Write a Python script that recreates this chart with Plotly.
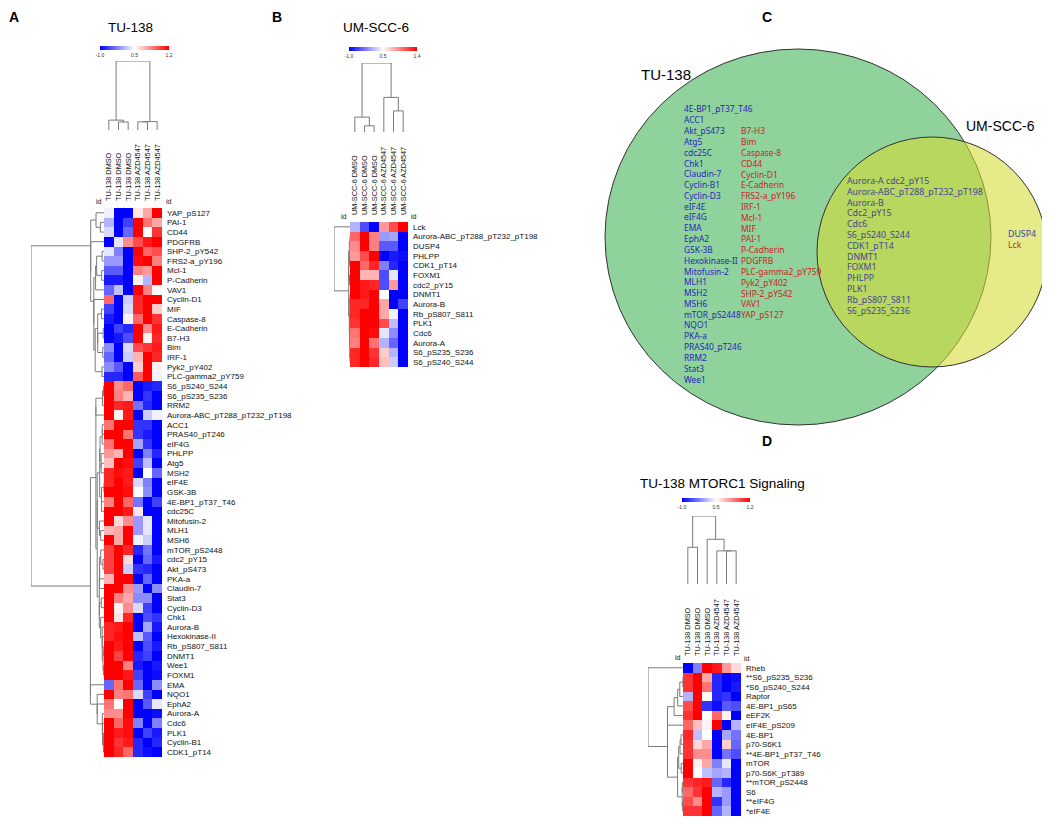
import numpy as np
import plotly.graph_objects as go

# The page body has an 8px margin, so the figure is offset by 8px.
OFF = 8
W, H = 1050 - OFF, 819 - OFF


def px(x):
    return (x - OFF) / W


def py(y):
    return 1 - (y - OFF) / H


# ---------------- DATA ----------------
a_cols = ["TU-138 DMSO", "TU-138 DMSO", "TU-138 DMSO",
          "TU-138 AZD4547", "TU-138 AZD4547", "TU-138 AZD4547"]
a_rows = ["YAP_pS127", "PAI-1", "CD44", "PDGFRB", "SHP-2_pY542", "FRS2-a_pY196", "Mcl-1",
          "P-Cadherin", "VAV1", "Cyclin-D1", "MIF", "Caspase-8", "E-Cadherin", "B7-H3", "Bim",
          "IRF-1", "Pyk2_pY402", "PLC-gamma2_pY759", "S6_pS240_S244", "S6_pS235_S236", "RRM2",
          "Aurora-ABC_pT288_pT232_pT198", "ACC1", "PRAS40_pT246", "eIF4G", "PHLPP", "Atg5",
          "MSH2", "eIF4E", "GSK-3B", "4E-BP1_pT37_T46", "cdc25C", "Mitofusin-2", "MLH1", "MSH6",
          "mTOR_pS2448", "cdc2_pY15", "Akt_pS473", "PKA-a", "Claudin-7", "Stat3", "Cyclin-D3",
          "Chk1", "Aurora-B", "Hexokinase-II", "Rb_pS807_S811", "DNMT1", "Wee1", "FOXM1", "EMA",
          "NQO1", "EphA2", "Aurora-A", "Cdc6", "PLK1", "Cyclin-B1", "CDK1_pT14"]
a_vals = [
    [-0.05, -1, -1, 0.1, 0.35, 1.0],
    [-0.3, -1, -0.75, 1, 0.55, 0.35],
    [-0.15, -1, -0.6, 1, 0.0, 0.8],
    [-1, -0.1, 0.45, 0.7, 0.9, 1],
    [-0.1, -0.5, -1, 1, 0.6, 0.7],
    [-0.4, -0.4, -1, 0.95, 1, 0.5],
    [-0.65, -0.65, -1, 0.5, 0.4, 1],
    [-0.9, -0.9, -1, 0.05, -0.3, 1],
    [-0.6, -0.25, -1, 1, 0.5, 0.02],
    [0.6, -1, -0.2, 0.85, 1, 1],
    [-0.75, -1, -0.15, 0.85, 1, 0.2],
    [-0.9, -1, 0.05, 0.6, 1, 0.8],
    [-1, -0.75, -0.85, 1, 0.45, 0.9],
    [-1, -0.9, -0.7, 1, 0.05, 0.85],
    [-0.45, -1, -0.15, 0.7, 0.8, 0.9],
    [-0.6, -1, -0.2, 0.3, 1, 0.85],
    [-0.45, -0.65, -1, 0.2, 1, 0.05],
    [-0.85, -0.85, -1, 0.65, 1, -0.05],
    [1, 0.45, 0.6, -1, -0.9, -0.85],
    [1, 0.5, 0.3, -1, -0.8, -1],
    [1, 0.85, 0.9, -0.55, -0.85, -1],
    [1, 0.05, 0.9, -1, -0.2, -0.05],
    [0.55, 1, 1, -0.8, -0.8, -1],
    [1, 1, 0.55, -0.8, -0.9, -1],
    [0.55, 1, 1, -0.35, -0.8, -1],
    [0.4, 0.3, 1, -1, -0.5, -0.85],
    [0.25, 1, 0.95, -0.75, -0.25, -1],
    [0.85, 0.95, 0.9, -1, 0.0, -0.6],
    [0.85, 1, 0.9, -0.15, -0.5, -1],
    [1, 1, 0.95, 0.0, -0.45, -1],
    [0.5, 1, 0.6, -0.55, -1, -0.75],
    [1, 1, 0.9, 0.1, -1, -1],
    [1, 0.15, 0.45, -0.4, -0.1, -1],
    [0.3, 0.35, 1, -0.4, -0.1, -1],
    [1, 0.35, 1, -0.05, -0.2, -1],
    [0.75, 1, 0.85, -0.85, -0.55, -1],
    [0.75, 1, 0.15, -1, -0.6, -0.9],
    [0.75, 1, -0.2, -0.8, -0.85, -1],
    [0.3, 1, 1, -1, -0.6, -1],
    [1, 1, 0.45, -0.4, -1, -0.45],
    [1, 0.5, 0.35, -0.45, -0.45, -1],
    [1, 0.05, 0.45, -0.15, -0.75, -1],
    [1, 0.1, 0.85, -1, -0.7, -0.8],
    [0.85, 0.9, 1, -1, -0.35, -0.9],
    [0.85, 0.95, 1, -0.25, -0.65, -1],
    [1, 0.9, 1, -1, -0.7, -0.9],
    [1, 0.75, 1, -0.85, -0.75, -1],
    [1, 1, 0.5, -0.9, -1, -0.9],
    [1, 1, 0.9, -0.75, -1, -0.95],
    [-0.6, 0.55, 1, -0.6, -1, -0.45],
    [1, 0.5, 0.55, -0.15, -0.75, -1],
    [0.55, 0.0, 1, -1, -0.65, -0.1],
    [0.45, 0.45, 1, -1, -1, -0.95],
    [1, 0.6, 0.95, -0.5, -1, -0.5],
    [1, 0.9, 0.95, -1, -0.75, -0.9],
    [1, 0.8, 0.9, -0.85, -1, -0.85],
    [1, 0.85, 0.6, -0.85, -0.95, -1],
]

b_cols = ["UM-SCC-6 DMSO", "UM-SCC-6 DMSO", "UM-SCC-6 DMSO",
          "UM-SCC-6 AZD4547", "UM-SCC-6 AZD4547", "UM-SCC-6 AZD4547"]
b_rows = ["Lck", "Aurora-ABC_pT288_pT232_pT198", "DUSP4", "PHLPP", "CDK1_pT14", "FOXM1",
          "cdc2_pY15", "DNMT1", "Aurora-B", "Rb_pS807_S811", "PLK1", "Cdc6", "Aurora-A",
          "S6_pS235_S236", "S6_pS240_S244"]
b_vals = [
    [-0.3, -0.7, -1, 0.4, 0.7, 1],
    [0.6, 1, 0.5, -0.4, -0.35, -1],
    [0.45, 1, 0.5, -0.65, -0.65, -1],
    [0.4, 0.7, 1, -1, -0.9, -0.95],
    [1, 0.6, 0.85, -0.5, -0.85, -1],
    [1, 0.3, 0.3, -0.7, -0.1, -1],
    [1, 0.9, 0.85, -0.7, 0.4, -1],
    [1, 0.9, 1, 0.0, -1, -1],
    [0.85, 0.85, 1, 0.35, -1, -0.75],
    [0.85, 1, 1, 0.35, -0.05, -1],
    [0.8, 1, 1, 0.7, -0.25, -1],
    [0.55, 1, 0.95, -0.1, -0.45, -1],
    [0.5, 1, 0.55, -0.3, -0.6, -1],
    [0.85, 1, 0.8, 0.2, -0.3, -1],
    [0.85, 1, 0.85, 0.25, -0.2, -1],
]

d_cols = ["TU-138 DMSO", "TU-138 DMSO", "TU-138 DMSO",
          "TU-138 AZD4547", "TU-138 AZD4547", "TU-138 AZD4547"]
d_rows = ["Rheb", "**S6_pS235_S236", "*S6_pS240_S244", "Raptor", "4E-BP1_pS65", "eEF2K",
          "eIF4E_pS209", "4E-BP1", "p70-S6K1", "**4E-BP1_pT37_T46", "mTOR", "p70-S6K_pT389",
          "**mTOR_pS2448", "S6", "**eIF4G", "*eIF4E"]
d_vals = [
    [-1, -0.5, 1, 0.9, 0.4, 0.15],
    [0.8, 1, 0.35, -0.85, -1, -0.95],
    [0.8, 1, 0.55, -0.85, -1, -0.9],
    [-0.3, 1, 0.02, -0.85, -0.8, -1],
    [0.7, 1, -0.8, -0.95, -0.65, -0.7],
    [0.8, 1, 0.0, 0.6, 0.05, -1],
    [0.6, 0.25, 0.05, 1, -1, -0.3],
    [0.85, -0.25, 0.0, -1, -0.35, -0.55],
    [0.8, 0.15, 0.35, -1, 0.2, -0.6],
    [0.8, 0.45, 0.45, -1, -0.55, -0.7],
    [1, 0.05, 0.35, -0.5, -0.1, -1],
    [1, 0.0, -0.25, -0.35, -0.3, -1],
    [0.8, 0.85, 0.9, -0.6, -0.85, -1],
    [0.6, 0.8, 1, -0.3, -0.4, -1],
    [0.7, 0.45, 1, -0.8, -0.4, -1],
    [0.8, 0.8, 1, -0.6, -0.3, -1],
]

scale_ticks = [-1, 0, 1]
a_scale_text = ["-1.0", "0.5", "1.2"]
b_scale_text = ["-1.0", "0.5", "1.4"]
d_scale_text = ["-1.0", "0.5", "1.2"]

venn_tu_blue = ["4E-BP1_pT37_T46", "ACC1", "Akt_pS473", "Atg5", "cdc25C", "Chk1", "Claudin-7",
                "Cyclin-B1", "Cyclin-D3", "eIF4E", "eIF4G", "EMA", "EphA2", "GSK-3B",
                "Hexokinase-II", "Mitofusin-2", "MLH1", "MSH2", "MSH6", "mTOR_pS2448", "NQO1",
                "PKA-a", "PRAS40_pT246", "RRM2", "Stat3", "Wee1"]
venn_tu_red = ["B7-H3", "Bim", "Caspase-8", "CD44", "Cyclin-D1", "E-Cadherin", "FRS2-a_pY196",
               "IRF-1", "Mcl-1", "MIF", "PAI-1", "P-Cadherin", "PDGFRB", "PLC-gamma2_pY759",
               "Pyk2_pY402", "SHP-2_pY542", "VAV1", "YAP_pS127"]
venn_both = ["Aurora-A cdc2_pY15", "Aurora-ABC_pT288_pT232_pT198", "Aurora-B", "Cdc2_pY15",
             "Cdc6", "S6_pS240_S244", "CDK1_pT14", "DNMT1", "FOXM1", "PHLPP", "PLK1",
             "Rb_pS807_S811", "S6_pS235_S236"]
venn_um_blue = ["DUSP4"]
venn_um_red = ["Lck"]

# ---------------- HELPERS ----------------
COLORSCALE = [[0, "rgb(0,0,255)"], [0.5, "rgb(255,255,255)"], [1, "rgb(255,0,0)"]]
LABEL_FONT = "Liberation Sans, Arial, sans-serif"
DEND_COLOR = "#7a7a7a"


def adjacent_linkage(M):
    """Average-linkage (1 - Pearson) clustering restricted to neighbours in display order."""
    C = np.corrcoef(M)
    D = 1 - C
    clusters = [dict(m=[i], pos=float(i), h=0.0) for i in range(M.shape[0])]
    segs = []
    while len(clusters) > 1:
        ds = [float(np.mean(D[np.ix_(clusters[k]["m"], clusters[k + 1]["m"])]))
              for k in range(len(clusters) - 1)]
        k = int(np.argmin(ds))
        a, b = clusters[k], clusters[k + 1]
        h = max(ds[k], a["h"], b["h"])
        segs.append(([a["pos"], a["pos"], b["pos"], b["pos"]], [a["h"], h, h, b["h"]]))
        clusters[k:k + 2] = [dict(m=a["m"] + b["m"], pos=(a["pos"] + b["pos"]) / 2, h=h)]
    return segs, clusters[0]["h"]


fig = go.Figure()
layout_axes = {}
annotations = []
ax_counter = [0]


def new_axes():
    ax_counter[0] += 1
    i = ax_counter[0]
    return ("x" if i == 1 else f"x{i}"), ("y" if i == 1 else f"y{i}"), \
        ("xaxis" if i == 1 else f"xaxis{i}"), ("yaxis" if i == 1 else f"yaxis{i}")


def add_panel(rows, cols, vals, hm_box, rd_left, cd_top, cb_box, cb_text, id_left, id_right):
    M = np.array(vals, dtype=float)
    n, m = M.shape
    x0, x1, y0, y1 = hm_box
    # heatmap
    xr, yr, xk, yk = new_axes()
    fig.add_trace(go.Heatmap(
        z=M, x=list(range(m)), y=list(range(n)), zmin=-1, zmax=1, colorscale=COLORSCALE,
        xaxis=xr, yaxis=yr, hoverinfo="skip",
        colorbar=dict(orientation="h", lenmode="pixels", len=cb_box[1] - cb_box[0],
                      thickness=4, x=px((cb_box[0] + cb_box[1]) / 2), xanchor="center",
                      y=py(cb_box[2]), yanchor="top", outlinewidth=0, ticks="",
                      tickvals=scale_ticks, ticktext=cb_text, xpad=0, ypad=0,
                      tickfont=dict(size=5, family=LABEL_FONT, color="#333"))))
    layout_axes[xk] = dict(domain=[px(x0), px(x1)], range=[-0.5, m - 0.5], side="top",
                           anchor=yr, tickmode="array", tickvals=list(range(m)),
                           ticktext=cols, tickangle=-90, ticks="", showgrid=False,
                           zeroline=False, showline=False, ticklabelstandoff=6,
                           tickfont=dict(size=7.3, family=LABEL_FONT, color="#111"))
    layout_axes[yk] = dict(domain=[py(y1), py(y0)], range=[n - 0.5, -0.5], side="right",
                           anchor=xr, tickmode="array", tickvals=list(range(n)),
                           ticktext=rows, ticks="", showgrid=False, zeroline=False,
                           showline=False, ticklabelstandoff=4,
                           tickfont=dict(size=8, family=LABEL_FONT, color="#111"))
    # row dendrogram
    segs, hmax = adjacent_linkage(M)
    xs, ys = [], []
    for sx, sy in segs:
        xs += sy + [None]
        ys += sx + [None]
    xr2, yr2, xk2, yk2 = new_axes()
    fig.add_trace(go.Scatter(x=xs, y=ys, mode="lines", xaxis=xr2, yaxis=yr2,
                             line=dict(color=DEND_COLOR, width=1), cliponaxis=False,
                             hoverinfo="skip"))
    layout_axes[xk2] = dict(domain=[px(rd_left), px(x0)], range=[hmax, 0], visible=False,
                            anchor=yr2)
    layout_axes[yk2] = dict(domain=[py(y1), py(y0)], range=[n - 0.5, -0.5], visible=False,
                            anchor=xr2)
    # column dendrogram
    segs, hmax = adjacent_linkage(M.T)
    xs, ys = [], []
    for sx, sy in segs:
        xs += sx + [None]
        ys += sy + [None]
    xr3, yr3, xk3, yk3 = new_axes()
    fig.add_trace(go.Scatter(x=xs, y=ys, mode="lines", xaxis=xr3, yaxis=yr3,
                             line=dict(color=DEND_COLOR, width=1), cliponaxis=False,
                             hoverinfo="skip"))
    layout_axes[xk3] = dict(domain=[px(x0), px(x1)], range=[-0.5, m - 0.5], visible=False,
                            anchor=yr3)
    layout_axes[yk3] = dict(domain=[py(cd_top[1]), py(cd_top[0])], range=[0, hmax],
                            visible=False, anchor=xr3)
    for (ix, iy) in (id_left, id_right):
        annotations.append(dict(x=px(ix), y=py(iy), xref="paper", yref="paper", text="id",
                                showarrow=False, xanchor="center", yanchor="middle",
                                font=dict(size=7, family=LABEL_FONT, color="#111")))


# Panel A
add_panel(a_rows, a_cols, a_vals, (104, 162, 208, 757), 31, (61, 130), (100, 169, 46),
          a_scale_text, (99, 201), (169, 202))
# Panel B
add_panel(b_rows, b_cols, b_vals, (350, 408, 222, 367), 334, (63, 132), (349, 417, 47),
          b_scale_text, (344, 216), (414, 217))
# Panel D
add_panel(d_rows, d_cols, d_vals, (683, 741, 663, 816), 648, (516, 584), (682, 750, 498),
          d_scale_text, (678, 657), (747, 658))


def text(x, y, s, size, color="#000", family=LABEL_FONT, xanchor="left", yanchor="middle"):
    annotations.append(dict(x=px(x), y=py(y), xref="paper", yref="paper", text=s,
                            showarrow=False, xanchor=xanchor, yanchor=yanchor, borderpad=0,
                            font=dict(size=size, family=family, color=color)))


# Panel letters & titles
for lab, lx, ly in (("A", 8, 8), ("B", 271, 8), ("C", 761, 8)):
    text(lx, ly, f"<b>{lab}</b>", 14, yanchor="top")
text(761, 441, "<b>D</b>", 14)
text(130, 27, "TU-138", 13.5, xanchor="center")
text(376, 27, "UM-SCC-6", 13.5, xanchor="center")
text(722, 483, "TU-138 MTORC1 Signaling", 13.5, xanchor="center")

# Venn diagram
shapes = []


def ellipse(cx, cy, rx, ry, fill):
    shapes.append(dict(type="circle", xref="paper", yref="paper",
                       x0=px(cx - rx), x1=px(cx + rx), y0=py(cy + ry), y1=py(cy - ry),
                       fillcolor=fill, line=dict(color="#333", width=1), layer="below"))


ellipse(798, 237, 193, 188, "rgb(143,210,156)")
ellipse(932, 252, 115, 115, "rgba(212,218,50,0.58)")

VENN_FONT = "Noto Sans, Open Sans, sans-serif"
text(640, 75, "TU-138", 15)
text(965, 126, "UM-SCC-6", 14)
step = 10.8
for i, s in enumerate(venn_tu_blue):
    text(683, 109 + i * step, s, 8.4, "rgb(40,40,185)", VENN_FONT)
for i, s in enumerate(venn_tu_red):
    text(740, 131 + i * step, s, 8.4, "rgb(205,35,35)", VENN_FONT)
for i, s in enumerate(venn_both):
    text(846, 181 + i * step, s, 8.8, "rgb(70,70,150)", VENN_FONT)
for i, s in enumerate(venn_um_blue):
    text(1007, 234 + i * step, s, 8.8, "rgb(60,60,170)", VENN_FONT)
for i, s in enumerate(venn_um_red):
    text(1007, 245 + i * step, s, 8.8, "rgb(210,30,30)", VENN_FONT)

fig.update_layout(width=W, height=H, margin=dict(l=0, r=0, t=0, b=0),
                  paper_bgcolor="white", plot_bgcolor="rgba(0,0,0,0)", showlegend=False,
                  annotations=annotations, shapes=shapes, **layout_axes)
fig.write_html("out.html")
